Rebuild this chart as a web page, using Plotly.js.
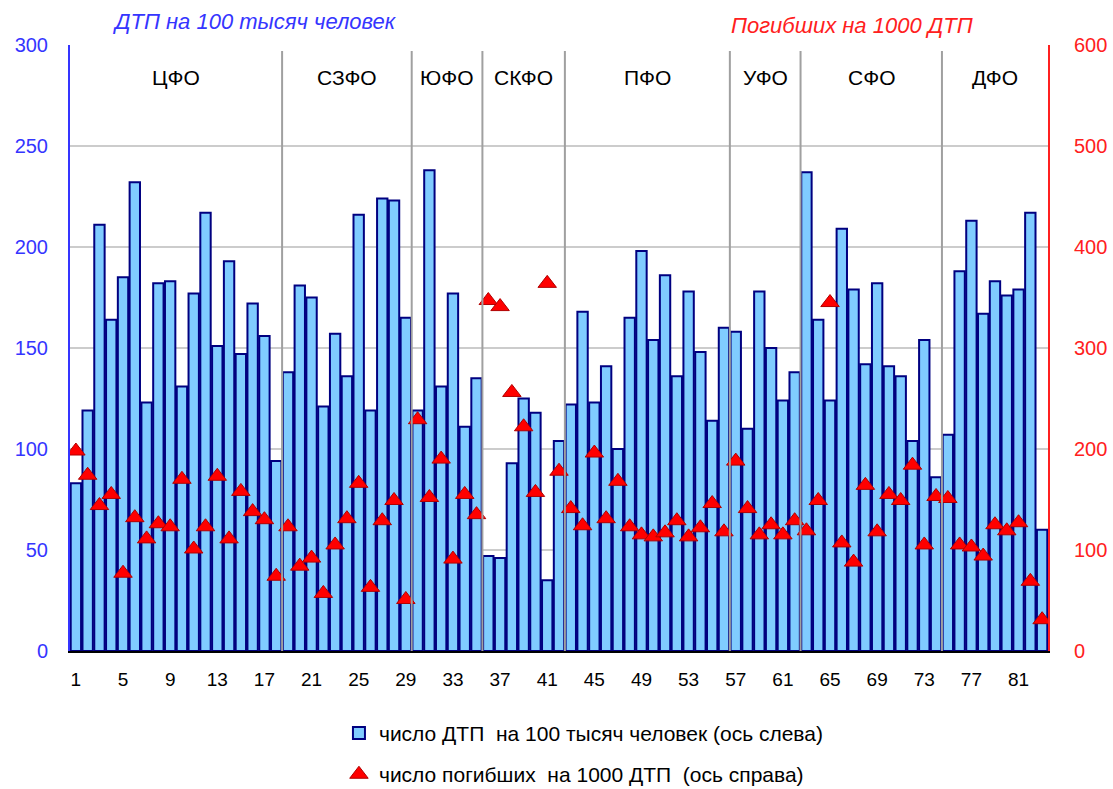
<!DOCTYPE html>
<html>
<head>
<meta charset="utf-8">
<script src="https://cdn.plot.ly/plotly-3.0.1.min.js"></script>
<style>
  html, body { margin: 0; padding: 0; background: #fff; }
  #chart { width: 1113px; height: 789px; }
</style>
</head>
<body>
<div id="chart"></div>
<script>
// road accidents per 100k people, by region number 1..83 (left axis)
const accidentsPer100k = [
  83, 119, 211, 164, 185, 232, 123, 182, 183, 131, 177, 217, 151, 193, 147, 172, 156, 94,
  138, 181, 175, 121, 157, 136, 216, 119, 224, 223, 165,
  119, 238, 131, 177, 111, 135,
  47, 46, 93, 125, 118, 35, 104,
  122, 168, 123, 141, 100, 165, 198, 154, 186, 136, 178, 148, 114, 160,
  158, 110, 178, 150, 124, 138,
  237, 164, 124, 209, 179, 142, 182, 141, 136, 104, 154, 86,
  107, 188, 213, 167, 183, 176, 179, 217, 60
];

// deaths per 1000 accidents (right axis)
const deathsPer1000 = [
  198, 174, 144, 155, 77, 132, 111, 126, 123, 170, 101, 123, 173, 111, 158, 138, 130, 74,
  123, 84, 92, 57, 105, 131, 166, 63, 129, 149, 51,
  229, 152, 190, 91, 155, 135,
  347, 341, 256, 222, 157, 364, 178,
  141, 124, 196, 131, 168, 123, 115, 113, 117, 129, 113, 122, 146, 118,
  188, 141, 115, 125, 115, 129,
  119, 149, 345, 107, 88, 164, 118, 155, 149, 184, 105, 153,
  151, 105, 103, 94, 125, 119, 127, 69, 31
];

// federal districts and how many regions each has
const districts = ['ЦФО', 'СЗФО', 'ЮФО', 'СКФО', 'ПФО', 'УФО', 'СФО', 'ДФО'];
const districtSizes = [18, 11, 6, 7, 14, 6, 12, 9];

const xTicks = [1, 5, 9, 13, 17, 21, 25, 29, 33, 37, 41, 45, 49, 53, 57, 61, 65, 69, 73, 77, 81];

const regionNums = accidentsPer100k.map((_, i) => i + 1);

const FONT = 'Liberation Sans, Arial, sans-serif';
const BLUE = '#3535FF';
const RED = '#FF2020';

const traces = [
  {
    x: regionNums,
    y: accidentsPer100k,
    type: 'bar',
    name: 'число ДТП  на 100 тысяч человек (ось слева)',
    legendgroup: 'a',
    marker: { color: '#80CCFF', line: { color: '#000080', width: 2 } }
  },
  {
    x: regionNums,
    y: deathsPer1000,
    yaxis: 'y2',
    type: 'scatter',
    mode: 'markers',
    name: 'число погибших  на 1000 ДТП  (ось справа)',
    legendgroup: 'b',
    marker: { symbol: 'triangle-up', size: 16, color: '#FF0000', line: { color: '#B00000', width: 1 } }
  }
];

// district separators and labels
const shapes = [];
const annotations = [];
let start = 0.5;
districts.forEach((name, i) => {
  const end = start + districtSizes[i];
  if (i < districts.length - 1) {
    shapes.push({
      type: 'line', xref: 'x', yref: 'paper',
      x0: end, x1: end, y0: 0, y1: 0.99,
      line: { color: '#A0A0A0', width: 2 },
      layer: 'above'
    });
  }
  annotations.push({
    x: (start + end) / 2, y: 0.947, xref: 'x', yref: 'paper',
    xanchor: 'center', yanchor: 'middle',
    text: name, showarrow: false,
    font: { family: FONT, size: 21, color: '#000' }
  });
  start = end;
});

annotations.push({
  x: 0.189, y: 1.038, xref: 'paper', yref: 'paper',
  xanchor: 'center', yanchor: 'middle',
  text: '<i>ДТП на 100 тысяч человек</i>', showarrow: false,
  font: { family: FONT, size: 22, color: BLUE }
});
annotations.push({
  x: 0.80, y: 1.033, xref: 'paper', yref: 'paper',
  xanchor: 'center', yanchor: 'middle',
  text: '<i>Погибших на 1000 ДТП</i>', showarrow: false,
  font: { family: FONT, size: 22, color: RED }
});

const layout = {
  width: 1113,
  height: 789,
  paper_bgcolor: '#FFFFFF',
  plot_bgcolor: '#FFFFFF',
  font: { family: FONT, size: 18, color: '#000' },
  margin: { t: 45, r: 65, b: 138, l: 70, autoexpand: false },
  bargap: 0.12,
  showlegend: true,
  xaxis: {
    range: [0.5, 83.5],
    tickvals: xTicks,
    ticks: '',
    showgrid: false,
    showline: true,
    linecolor: '#000',
    linewidth: 2,
    zeroline: false,
    ticklabelstandoff: 10,
    tickfont: { family: FONT, size: 19, color: '#000' }
  },
  yaxis: {
    range: [0, 300],
    dtick: 50,
    ticks: '',
    showline: true,
    linecolor: BLUE,
    linewidth: 2,
    gridcolor: '#CCCCCC',
    gridwidth: 2,
    zeroline: false,
    ticklabelstandoff: 16,
    tickfont: { family: FONT, size: 20, color: BLUE }
  },
  yaxis2: {
    range: [0, 600],
    dtick: 100,
    overlaying: 'y',
    side: 'right',
    ticks: '',
    showgrid: false,
    showline: true,
    linecolor: RED,
    linewidth: 2,
    zeroline: false,
    ticklabelstandoff: 20,
    tickfont: { family: FONT, size: 20, color: RED }
  },
  legend: {
    orientation: 'v',
    x: 0.275,
    xanchor: 'left',
    y: -0.102,
    yanchor: 'top',
    tracegroupgap: 11,
    itemwidth: 30,
    bgcolor: 'rgba(0,0,0,0)',
    font: { family: FONT, size: 21, color: '#000' }
  },
  shapes: shapes,
  annotations: annotations
};

Plotly.newPlot('chart', traces, layout, { displayModeBar: false, responsive: false });
</script>
</body>
</html>
